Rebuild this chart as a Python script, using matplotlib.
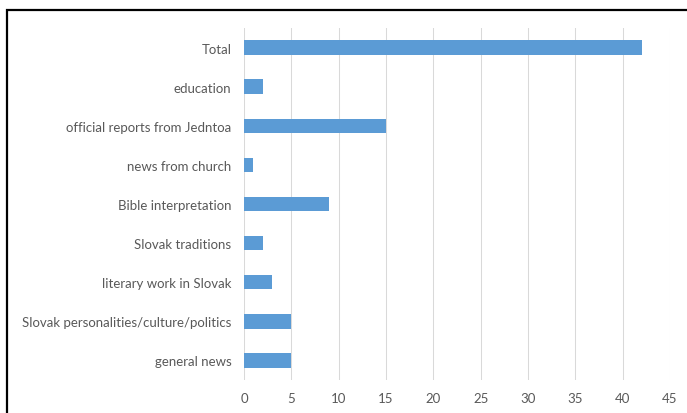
import matplotlib
matplotlib.use("Agg")
import matplotlib.pyplot as plt
from matplotlib.patches import Rectangle

categories = [
    "general news",
    "Slovak personalities/culture/politics",
    "literary work in Slovak",
    "Slovak traditions",
    "Bible interpretation",
    "news from church",
    "official reports from Jedntoa",
    "education",
    "Total",
]
values = [5, 5, 3, 2, 9, 1, 15, 2, 42]
x_ticks = [0, 5, 10, 15, 20, 25, 30, 35, 40, 45]

plt.rcParams["font.family"] = ["Lato", "DejaVu Sans"]

fig = plt.figure(figsize=(6.87, 4.14), dpi=100)
ax = fig.add_axes([244 / 687, 1 - 381 / 414, (670 - 244) / 687, (381 - 29) / 414])

pos = list(range(len(categories)))
ax.barh(pos, values, height=0.37, color="#5B9BD5", zorder=3)

ax.set_xlim(0, 45)
ax.set_ylim(-0.5, len(categories) - 0.5)
ax.set_xticks(x_ticks)
ax.set_yticks(pos)
ax.set_yticklabels(categories)

ax.grid(axis="x", color="#D9D9D9", linewidth=0.75, zorder=0)
ax.set_axisbelow(True)
for s in ax.spines.values():
    s.set_visible(False)
ax.tick_params(axis="both", length=0, colors="#595959", labelsize=9.5)
ax.tick_params(axis="x", pad=9)
ax.tick_params(axis="y", pad=9)

# Outer chart frame (right and bottom edges fall outside the canvas)
fig.patches.append(Rectangle((7 / 687, -0.2), 2.0, 1.2 - 10.5 / 414,
                             transform=fig.transFigure, fill=False,
                             edgecolor="black", linewidth=1.6))

fig.savefig("out.png", dpi=100)
